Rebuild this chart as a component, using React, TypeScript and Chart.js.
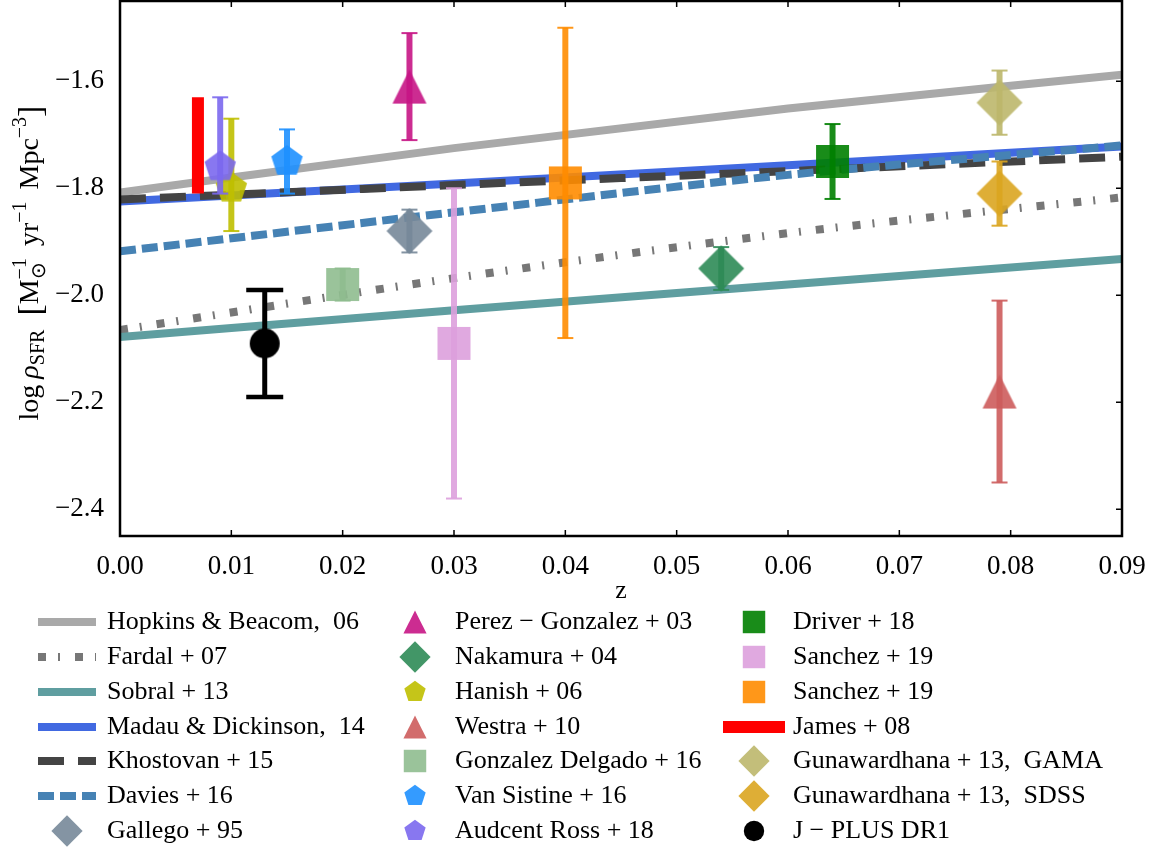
import React, { useEffect, useRef } from 'react';
import { Chart, registerables } from 'chart.js';
Chart.register(...registerables);

const FONT = "'Liberation Serif', 'Times New Roman', serif";

// ---- axis ticks ----
const xTickValues = [0, 0.01, 0.02, 0.03, 0.04, 0.05, 0.06, 0.07, 0.08, 0.09];
const yTickValues = [-2.4, -2.2, -2.0, -1.8, -1.6];

// ---- model curves ----
const modelZ = [0, 0.03, 0.06, 0.09];
const hopkinsY = [-1.808, -1.725, -1.651, -1.588];
const fardalY = [-2.065, -1.968, -1.884, -1.817];
const sobralY = [-2.078, -2.028, -1.98, -1.932];
const madauY = [-1.825, -1.791, -1.757, -1.722];
const khostovanY = [-1.821, -1.794, -1.768, -1.741];
const daviesY = [-1.918, -1.845, -1.775, -1.72];

const modelLabels = [
  'Hopkins & Beacom,  06',
  'Fardal + 07',
  'Sobral + 13',
  'Madau & Dickinson,  14',
  'Khostovan + 15',
  'Davies + 16',
];
const modelValues = [hopkinsY, fardalY, sobralY, madauY, khostovanY, daviesY];

// ---- measurements with error bars ----
const pointLabels = [
  'Gallego + 95',
  'Perez − Gonzalez + 03',
  'Nakamura + 04',
  'Hanish + 06',
  'Westra + 10',
  'Gonzalez Delgado + 16',
  'Van Sistine + 16',
  'Audcent Ross + 18',
  'Driver + 18',
  'Sanchez + 19',
  'Sanchez + 19',
  'James + 08',
  'Gunawardhana + 13,  GAMA',
  'Gunawardhana + 13,  SDSS',
  'J − PLUS DR1',
];
const pointZ = [0.026, 0.026, 0.054, 0.01, 0.079, 0.02, 0.015, 0.009, 0.064, 0.03, 0.04, 0.007, 0.079, 0.079, 0.013];
const pointY = [-1.88, -1.61, -1.95, -1.8, -2.18, -1.98, -1.75, -1.76, -1.75, -2.09, -1.79, -1.72, -1.64, -1.81, -2.09];
const pointErrUp = [0.04, 0.1, 0.04, 0.13, 0.17, 0.03, 0.06, 0.13, 0.07, 0.29, 0.29, 0.09, 0.06, 0.06, 0.1];
const pointErrDown = [0.04, 0.1, 0.04, 0.08, 0.17, 0.03, 0.06, 0.05, 0.07, 0.29, 0.29, 0.09, 0.06, 0.06, 0.1];

// ---- styles ----
const modelStyles = [
  { color: '#a9a9a9', dash: [] as number[] },
  { color: '#777777', dash: [8, 12, 2, 15] },
  { color: '#5f9ea0', dash: [] as number[] },
  { color: '#4169e1', dash: [] as number[] },
  { color: '#444444', dash: [26, 14] },
  { color: '#4682b4', dash: [16, 6] },
];
const pointStyles = [
  { color: '#778899', marker: 'diamond', alpha: 0.9 },
  { color: '#c71585', marker: 'triangle', alpha: 0.9 },
  { color: '#2e8b57', marker: 'diamond', alpha: 0.9 },
  { color: '#bfbf00', marker: 'pentagon', alpha: 0.9 },
  { color: '#cd5c5c', marker: 'triangle', alpha: 0.9 },
  { color: '#8fbc8f', marker: 'square', alpha: 0.9 },
  { color: '#1e90ff', marker: 'pentagon', alpha: 0.9 },
  { color: '#7b68ee', marker: 'pentagon', alpha: 0.9 },
  { color: '#008000', marker: 'square', alpha: 0.9 },
  { color: '#dda0dd', marker: 'square', alpha: 0.9 },
  { color: '#ff8c00', marker: 'square', alpha: 0.9 },
  { color: '#ff0000', marker: 'none', alpha: 1 },
  { color: '#bdb76b', marker: 'diamond', alpha: 0.9 },
  { color: '#daa520', marker: 'diamond', alpha: 0.9 },
  { color: '#000000', marker: 'circle', alpha: 1 },
];
const markerSize: Record<string, number> = { diamond: 46, square: 33, triangle: 34, pentagon: 33, circle: 30, none: 0 };
const LEGEND_SCALE = 0.68;

function rgba(hex: string, a: number) {
  const r = parseInt(hex.slice(1, 3), 16);
  const g = parseInt(hex.slice(3, 5), 16);
  const b = parseInt(hex.slice(5, 7), 16);
  return `rgba(${r},${g},${b},${a})`;
}

function pathShape(ctx: CanvasRenderingContext2D, shape: string, cx: number, cy: number, s: number) {
  ctx.beginPath();
  const r = s / 2;
  if (shape === 'diamond') {
    ctx.moveTo(cx, cy - r);
    ctx.lineTo(cx + r, cy);
    ctx.lineTo(cx, cy + r);
    ctx.lineTo(cx - r, cy);
    ctx.closePath();
  } else if (shape === 'square') {
    ctx.rect(cx - r, cy - r, s, s);
  } else if (shape === 'triangle') {
    ctx.moveTo(cx, cy - r);
    ctx.lineTo(cx + r, cy + r);
    ctx.lineTo(cx - r, cy + r);
    ctx.closePath();
  } else if (shape === 'pentagon') {
    for (let k = 0; k < 5; k++) {
      const a = -Math.PI / 2 + (k * 2 * Math.PI) / 5;
      const px = cx + r * Math.cos(a);
      const py = cy + r * Math.sin(a);
      if (k === 0) ctx.moveTo(px, py);
      else ctx.lineTo(px, py);
    }
    ctx.closePath();
  } else if (shape === 'circle') {
    ctx.arc(cx, cy, r, 0, Math.PI * 2);
  }
}

function makeMarker(shape: string, fill: string, s: number) {
  const c = document.createElement('canvas');
  const size = Math.ceil(s) + 4;
  c.width = size;
  c.height = size;
  const ctx = c.getContext('2d')!;
  pathShape(ctx, shape, size / 2, size / 2, s);
  ctx.fillStyle = fill;
  ctx.fill();
  return c;
}

const errorBarPlugin = {
  id: 'errorBars',
  beforeDatasetDraw(chart: any, args: any) {
    const ds = chart.data.datasets[args.index];
    if (!ds.errUp) return;
    const { ctx } = chart;
    const xs = chart.scales.x;
    const ys = chart.scales.y;
    ctx.save();
    ctx.lineCap = 'butt';
    ds.data.forEach((p: any, i: number) => {
      const px = xs.getPixelForValue(p.x);
      const top = ys.getPixelForValue(p.y + ds.errUp[i]);
      const bot = ys.getPixelForValue(p.y - ds.errDown[i]);
      ctx.strokeStyle = ds.errColor;
      ctx.lineWidth = ds.errWidth;
      ctx.beginPath();
      ctx.moveTo(px, top);
      ctx.lineTo(px, bot);
      ctx.stroke();
      if (ds.capHalf > 0) {
        ctx.lineWidth = ds.capWidth;
        ctx.beginPath();
        ctx.moveTo(px - ds.capHalf, top);
        ctx.lineTo(px + ds.capHalf, top);
        ctx.stroke();
        ctx.beginPath();
        ctx.moveTo(px - ds.capHalf, bot);
        ctx.lineTo(px + ds.capHalf, bot);
        ctx.stroke();
      }
    });
    ctx.restore();
  },
};

function drawYLabel(ctx: CanvasRenderingContext2D, cx: number, cy: number) {
  const F = 28;
  const S = 20;
  const main = `${F}px ${FONT}`;
  const ital = `italic ${F}px ${FONT}`;
  const small = `${S}px ${FONT}`;
  const big = `${F + 6}px ${FONT}`;
  type P = { t: string; f: string; dy: number; gap?: number; stack?: { t: string; dy: number }[] };
  const pieces: P[] = [
    { t: 'log', f: main, dy: 0 },
    { t: '', f: main, dy: 0, gap: 6 },
    { t: 'ρ', f: ital, dy: 0 },
    { t: 'SFR', f: small, dy: 6 },
    { t: '', f: main, dy: 0, gap: 14 },
    { t: '[', f: big, dy: 3 },
    { t: 'M', f: main, dy: 0 },
    { t: '', f: small, dy: 0, stack: [{ t: '−1', dy: -12 }, { t: '⊙', dy: 7 }] },
    { t: '', f: main, dy: 0, gap: 12 },
    { t: 'yr', f: main, dy: 0 },
    { t: '−1', f: small, dy: -12 },
    { t: '', f: main, dy: 0, gap: 12 },
    { t: 'Mpc', f: main, dy: 0 },
    { t: '−3', f: small, dy: -12 },
    { t: ']', f: big, dy: 3 },
  ];
  const widthOf = (p: P) => {
    if (p.gap) return p.gap;
    ctx.font = p.f;
    if (p.stack) return Math.max(...p.stack.map((s) => ctx.measureText(s.t).width));
    return ctx.measureText(p.t).width;
  };
  const total = pieces.reduce((a, p) => a + widthOf(p), 0);
  ctx.save();
  ctx.translate(cx, cy);
  ctx.rotate(-Math.PI / 2);
  ctx.fillStyle = '#000';
  ctx.textBaseline = 'alphabetic';
  ctx.textAlign = 'left';
  let x = -total / 2;
  for (const p of pieces) {
    const w = widthOf(p);
    ctx.font = p.f;
    if (p.stack) {
      for (const s of p.stack) ctx.fillText(s.t, x, s.dy);
    } else if (p.t) {
      ctx.fillText(p.t, x, p.dy);
    }
    x += w;
  }
  ctx.restore();
}

const decorPlugin = {
  id: 'decor',
  afterDraw(chart: any) {
    const { ctx, chartArea } = chart;
    const { left, right, top, bottom } = chartArea;
    const xs = chart.scales.x;
    const ys = chart.scales.y;
    ctx.save();
    // frame
    ctx.strokeStyle = '#000';
    ctx.lineWidth = 2.5;
    ctx.strokeRect(left, top, right - left, bottom - top);
    // inward ticks
    ctx.lineWidth = 1.5;
    ctx.beginPath();
    xTickValues.forEach((v) => {
      const px = xs.getPixelForValue(v);
      ctx.moveTo(px, top);
      ctx.lineTo(px, top + 6);
      ctx.moveTo(px, bottom);
      ctx.lineTo(px, bottom - 6);
    });
    yTickValues.forEach((v) => {
      const py = ys.getPixelForValue(v);
      ctx.moveTo(right, py);
      ctx.lineTo(right - 6, py);
    });
    ctx.stroke();

    // axis titles
    ctx.fillStyle = '#000';
    ctx.font = `26px ${FONT}`;
    ctx.textAlign = 'center';
    ctx.textBaseline = 'middle';
    ctx.fillText('z', (left + right) / 2, 591);
    drawYLabel(ctx, 38, 263);

    // legend (3 columns, column-major)
    const rowsY = [622, 657, 692, 727, 761, 796, 831];
    const handleCx = [67, 415, 754];
    const textX = [107, 455, 793];
    ctx.font = `26px ${FONT}`;
    ctx.textAlign = 'left';
    ctx.textBaseline = 'middle';
    chart.data.datasets.forEach((ds: any, i: number) => {
      const col = Math.floor(i / 7);
      const row = i % 7;
      const y = rowsY[row];
      const hx = handleCx[col];
      ctx.save();
      if (ds.legendKind === 'line') {
        ctx.strokeStyle = ds.borderColor;
        ctx.lineWidth = ds.borderWidth;
        ctx.setLineDash(ds.borderDash || []);
        ctx.lineCap = 'butt';
        ctx.beginPath();
        ctx.moveTo(hx - 29, y);
        ctx.lineTo(hx + 29, y);
        ctx.stroke();
      } else if (ds.legendKind === 'bar') {
        ctx.strokeStyle = ds.errColor;
        ctx.lineWidth = ds.errWidth;
        ctx.beginPath();
        ctx.moveTo(hx - 31, y);
        ctx.lineTo(hx + 31, y);
        ctx.stroke();
      } else {
        pathShape(ctx, ds.markerShape, hx, y, markerSize[ds.markerShape] * LEGEND_SCALE);
        ctx.fillStyle = ds.markerFill;
        ctx.fill();
      }
      ctx.restore();
      ctx.fillStyle = '#000';
      ctx.fillText(ds.label, textX[col], y);
    });
    ctx.restore();
  },
};

export default function App() {
  const ref = useRef<HTMLCanvasElement>(null);
  useEffect(() => {
    const lineSets = modelLabels.map((label, i) => ({
      label,
      data: modelZ.map((z, k) => ({ x: z, y: modelValues[i][k] })),
      showLine: true,
      borderColor: modelStyles[i].color,
      backgroundColor: modelStyles[i].color,
      borderWidth: 8,
      borderDash: modelStyles[i].dash,
      borderCapStyle: 'butt',
      cubicInterpolationMode: 'monotone',
      pointRadius: 0,
      pointHoverRadius: 0,
      fill: false,
      order: -i,
      legendKind: 'line',
    }));
    const pointSets = pointLabels.map((label, i) => {
      const st = pointStyles[i];
      const fill = rgba(st.color, st.alpha);
      const s = markerSize[st.marker];
      const isJplus = st.marker === 'circle';
      const isBar = st.marker === 'none';
      return {
        label,
        data: [{ x: pointZ[i], y: pointY[i] }],
        errUp: [pointErrUp[i]],
        errDown: [pointErrDown[i]],
        errColor: fill,
        errWidth: isBar ? 12 : isJplus ? 5 : 6,
        capHalf: isBar ? 0 : isJplus ? 18.5 : 8,
        capWidth: isJplus ? 4.5 : 2,
        showLine: false,
        pointStyle: isBar ? 'circle' : makeMarker(st.marker, fill, s),
        pointRadius: isBar ? 0 : s / 2,
        pointHoverRadius: isBar ? 0 : s / 2,
        backgroundColor: fill,
        borderColor: fill,
        borderWidth: 0,
        order: -(i + modelLabels.length),
        legendKind: isBar ? 'bar' : 'marker',
        markerShape: st.marker,
        markerFill: fill,
      };
    });

    const chart = new Chart(ref.current as HTMLCanvasElement, {
      type: 'scatter',
      data: { datasets: [...lineSets, ...pointSets] as any },
      options: {
        responsive: false,
        animation: false,
        devicePixelRatio: 1,
        events: [],
        layout: { autoPadding: false, padding: { left: 0, right: 34, top: 1, bottom: 0 } },
        scales: {
          x: {
            type: 'linear',
            min: 0,
            max: 0.09,
            afterBuildTicks: (s: any) => {
              s.ticks = xTickValues.map((v) => ({ value: v }));
            },
            afterFit: (s: any) => {
              s.height = 314;
              s.paddingLeft = 0;
              s.paddingRight = 0;
              s.paddingTop = 0;
              s.paddingBottom = 0;
            },
            grid: { display: false },
            border: { display: false },
            ticks: {
              autoSkip: false,
              maxRotation: 0,
              minRotation: 0,
              padding: 7,
              color: '#000',
              font: { family: FONT, size: 27 },
              callback: (v: any) => Number(v).toFixed(2),
            },
          },
          y: {
            type: 'linear',
            min: -2.45,
            max: -1.45,
            afterBuildTicks: (s: any) => {
              s.ticks = yTickValues.map((v) => ({ value: v }));
            },
            afterFit: (s: any) => {
              s.width = 120;
              s.paddingLeft = 0;
              s.paddingRight = 0;
              s.paddingTop = 0;
              s.paddingBottom = 0;
            },
            grid: { display: false },
            border: { display: false },
            ticks: {
              autoSkip: false,
              padding: 8,
              color: '#000',
              font: { family: FONT, size: 27 },
              callback: (v: any) => (Number(v) < 0 ? '−' : '') + Math.abs(Number(v)).toFixed(1),
            },
          },
        },
        plugins: {
          legend: { display: false },
          tooltip: { enabled: false },
        },
      } as any,
      plugins: [errorBarPlugin, decorPlugin],
    });
    return () => chart.destroy();
  }, []);

  return (
    <div style={{ position: 'absolute', left: 0, top: 0, width: 1156, height: 850, background: '#fff' }}>
      <canvas ref={ref} width={1156} height={850} style={{ width: 1156, height: 850, display: 'block' }} />
    </div>
  );
}
